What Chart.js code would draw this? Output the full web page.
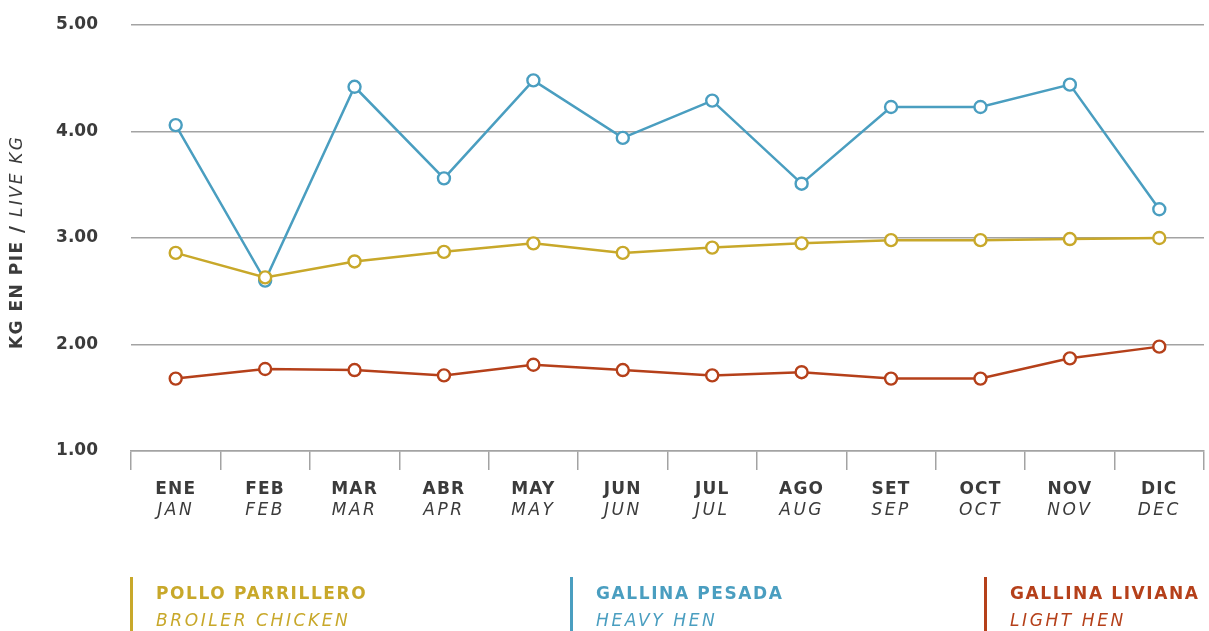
<!DOCTYPE html>
<html>
<head>
<meta charset="utf-8">
<script src="https://cdn.jsdelivr.net/npm/chart.js@4/dist/chart.umd.min.js"></script>
<style>
  body { margin: 0; background: #fff; }
  #wrap { position: relative; width: 1209px; height: 631px; }
  .leg { position: absolute; top: 577px; height: 54px; padding-left: 23px; border-left: 3px solid; font-family: "DejaVu Sans", sans-serif; font-size: 17px; }
  .leg b { display: block; letter-spacing: 1.6px; margin-top: 6px; }
  .leg i { display: block; letter-spacing: 2.6px; margin-top: 7px; }
</style>
</head>
<body>
<div id="wrap">
  <canvas id="chart" width="1209" height="631"></canvas>
  <div class="leg" style="left:130px;color:#c8a82a;border-color:#c8a82a"><b>POLLO PARRILLERO</b><i>BROILER CHICKEN</i></div>
  <div class="leg" style="left:570px;color:#4a9ec0;border-color:#4a9ec0"><b>GALLINA PESADA</b><i>HEAVY HEN</i></div>
  <div class="leg" style="left:984px;color:#b5401a;border-color:#b5401a"><b>GALLINA LIVIANA</b><i>LIGHT HEN</i></div>
</div>
<script>
const months = ['ENE', 'FEB', 'MAR', 'ABR', 'MAY', 'JUN', 'JUL', 'AGO', 'SET', 'OCT', 'NOV', 'DIC'];
const monthsEn = ['JAN', 'FEB', 'MAR', 'APR', 'MAY', 'JUN', 'JUL', 'AUG', 'SEP', 'OCT', 'NOV', 'DEC'];

// kg live weight
const broiler = [2.86, 2.63, 2.78, 2.87, 2.95, 2.86, 2.91, 2.95, 2.98, 2.98, 2.99, 3.00];
const heavyHen = [4.06, 2.60, 4.42, 3.56, 4.48, 3.94, 4.29, 3.51, 4.23, 4.23, 4.44, 3.27];
const lightHen = [1.68, 1.77, 1.76, 1.71, 1.81, 1.76, 1.71, 1.74, 1.68, 1.68, 1.87, 1.98];

const yMin = 1;
const yMax = 5;

const textColor = '#3b3b3b';
const gridColor = '#a3a3a3';
const fontName = '"DejaVu Sans", sans-serif';

function series(data, color) {
    return {
        data: data,
        borderColor: color,
        backgroundColor: '#fff',
        borderWidth: 2.5,
        pointRadius: 6,
        pointBorderWidth: 2.4,
        pointBackgroundColor: '#fff',
        pointBorderColor: color,
        tension: 0
    };
}

// month labels (spanish bold + english italic) and the y axis title
const labelsPlugin = {
    id: 'labels',
    afterDraw(chart) {
        const ctx = chart.ctx;
        const xs = chart.scales.x;
        ctx.save();
        ctx.fillStyle = textColor;
        ctx.textAlign = 'center';
        ctx.textBaseline = 'middle';
        months.forEach((m, i) => {
            const x = xs.getPixelForValue(i);
            ctx.font = 'bold 17px ' + fontName;
            ctx.letterSpacing = '1.2px';
            ctx.fillText(m, x, 490);
            ctx.font = 'italic 17px ' + fontName;
            ctx.letterSpacing = '2.5px';
            ctx.fillText(monthsEn[i], x, 511);
        });

        // rotated axis title
        ctx.translate(18, 242);
        ctx.rotate(-Math.PI / 2);
        ctx.textAlign = 'left';
        const boldPart = 'KG EN PIE ';
        const slash = '/';
        const italicPart = ' LIVE KG';
        ctx.font = 'bold 17px ' + fontName;
        ctx.letterSpacing = '1.5px';
        const w1 = ctx.measureText(boldPart).width;
        ctx.font = 'bold 19px ' + fontName;
        const w2 = ctx.measureText(slash).width;
        ctx.font = 'italic 17px ' + fontName;
        ctx.letterSpacing = '2.2px';
        const w3 = ctx.measureText(italicPart).width;
        let x0 = -(w1 + w2 + w3) / 2;
        ctx.font = 'bold 17px ' + fontName;
        ctx.letterSpacing = '1.5px';
        ctx.fillText(boldPart, x0, 0);
        ctx.font = 'bold 19px ' + fontName;
        ctx.fillText(slash, x0 + w1, 0);
        ctx.font = 'italic 17px ' + fontName;
        ctx.letterSpacing = '2.2px';
        ctx.fillText(italicPart, x0 + w1 + w2, 0);
        ctx.restore();
    }
};

const config = {
    type: 'line',
    data: {
        labels: months,
        datasets: [
            series(broiler, '#c8a82a'),
            series(heavyHen, '#4a9ec0'),
            series(lightHen, '#b5401a')
        ]
    },
    options: {
        responsive: false,
        animation: false,
        devicePixelRatio: 1,
        layout: { autoPadding: false, padding: { top: 25, right: 5, left: 0, bottom: 0 } },
        plugins: {
            legend: { display: false },
            tooltip: { enabled: false }
        },
        scales: {
            x: {
                offset: true,
                grid: {
                    offset: true,
                    drawOnChartArea: false,
                    tickLength: 19,
                    color: gridColor,
                    lineWidth: 1.5
                },
                border: { display: true, color: gridColor, width: 1.5 },
                ticks: { display: false },
                afterFit(scale) { scale.height = 180; }
            },
            y: {
                min: yMin,
                max: yMax,
                ticks: {
                    stepSize: 1,
                    padding: 33,
                    color: textColor,
                    font: { family: fontName, size: 17, weight: 'bold' },
                    callback: v => v.toFixed(2)
                },
                grid: { color: gridColor, lineWidth: 1.5, drawTicks: false },
                border: { display: false },
                afterFit(scale) {
                    scale.width = 131;
                    scale.paddingTop = 10;
                    scale.paddingBottom = 10;
                }
            }
        }
    },
    plugins: [labelsPlugin]
};

const chart = new Chart(document.getElementById('chart'), config);
</script>
</body>
</html>
